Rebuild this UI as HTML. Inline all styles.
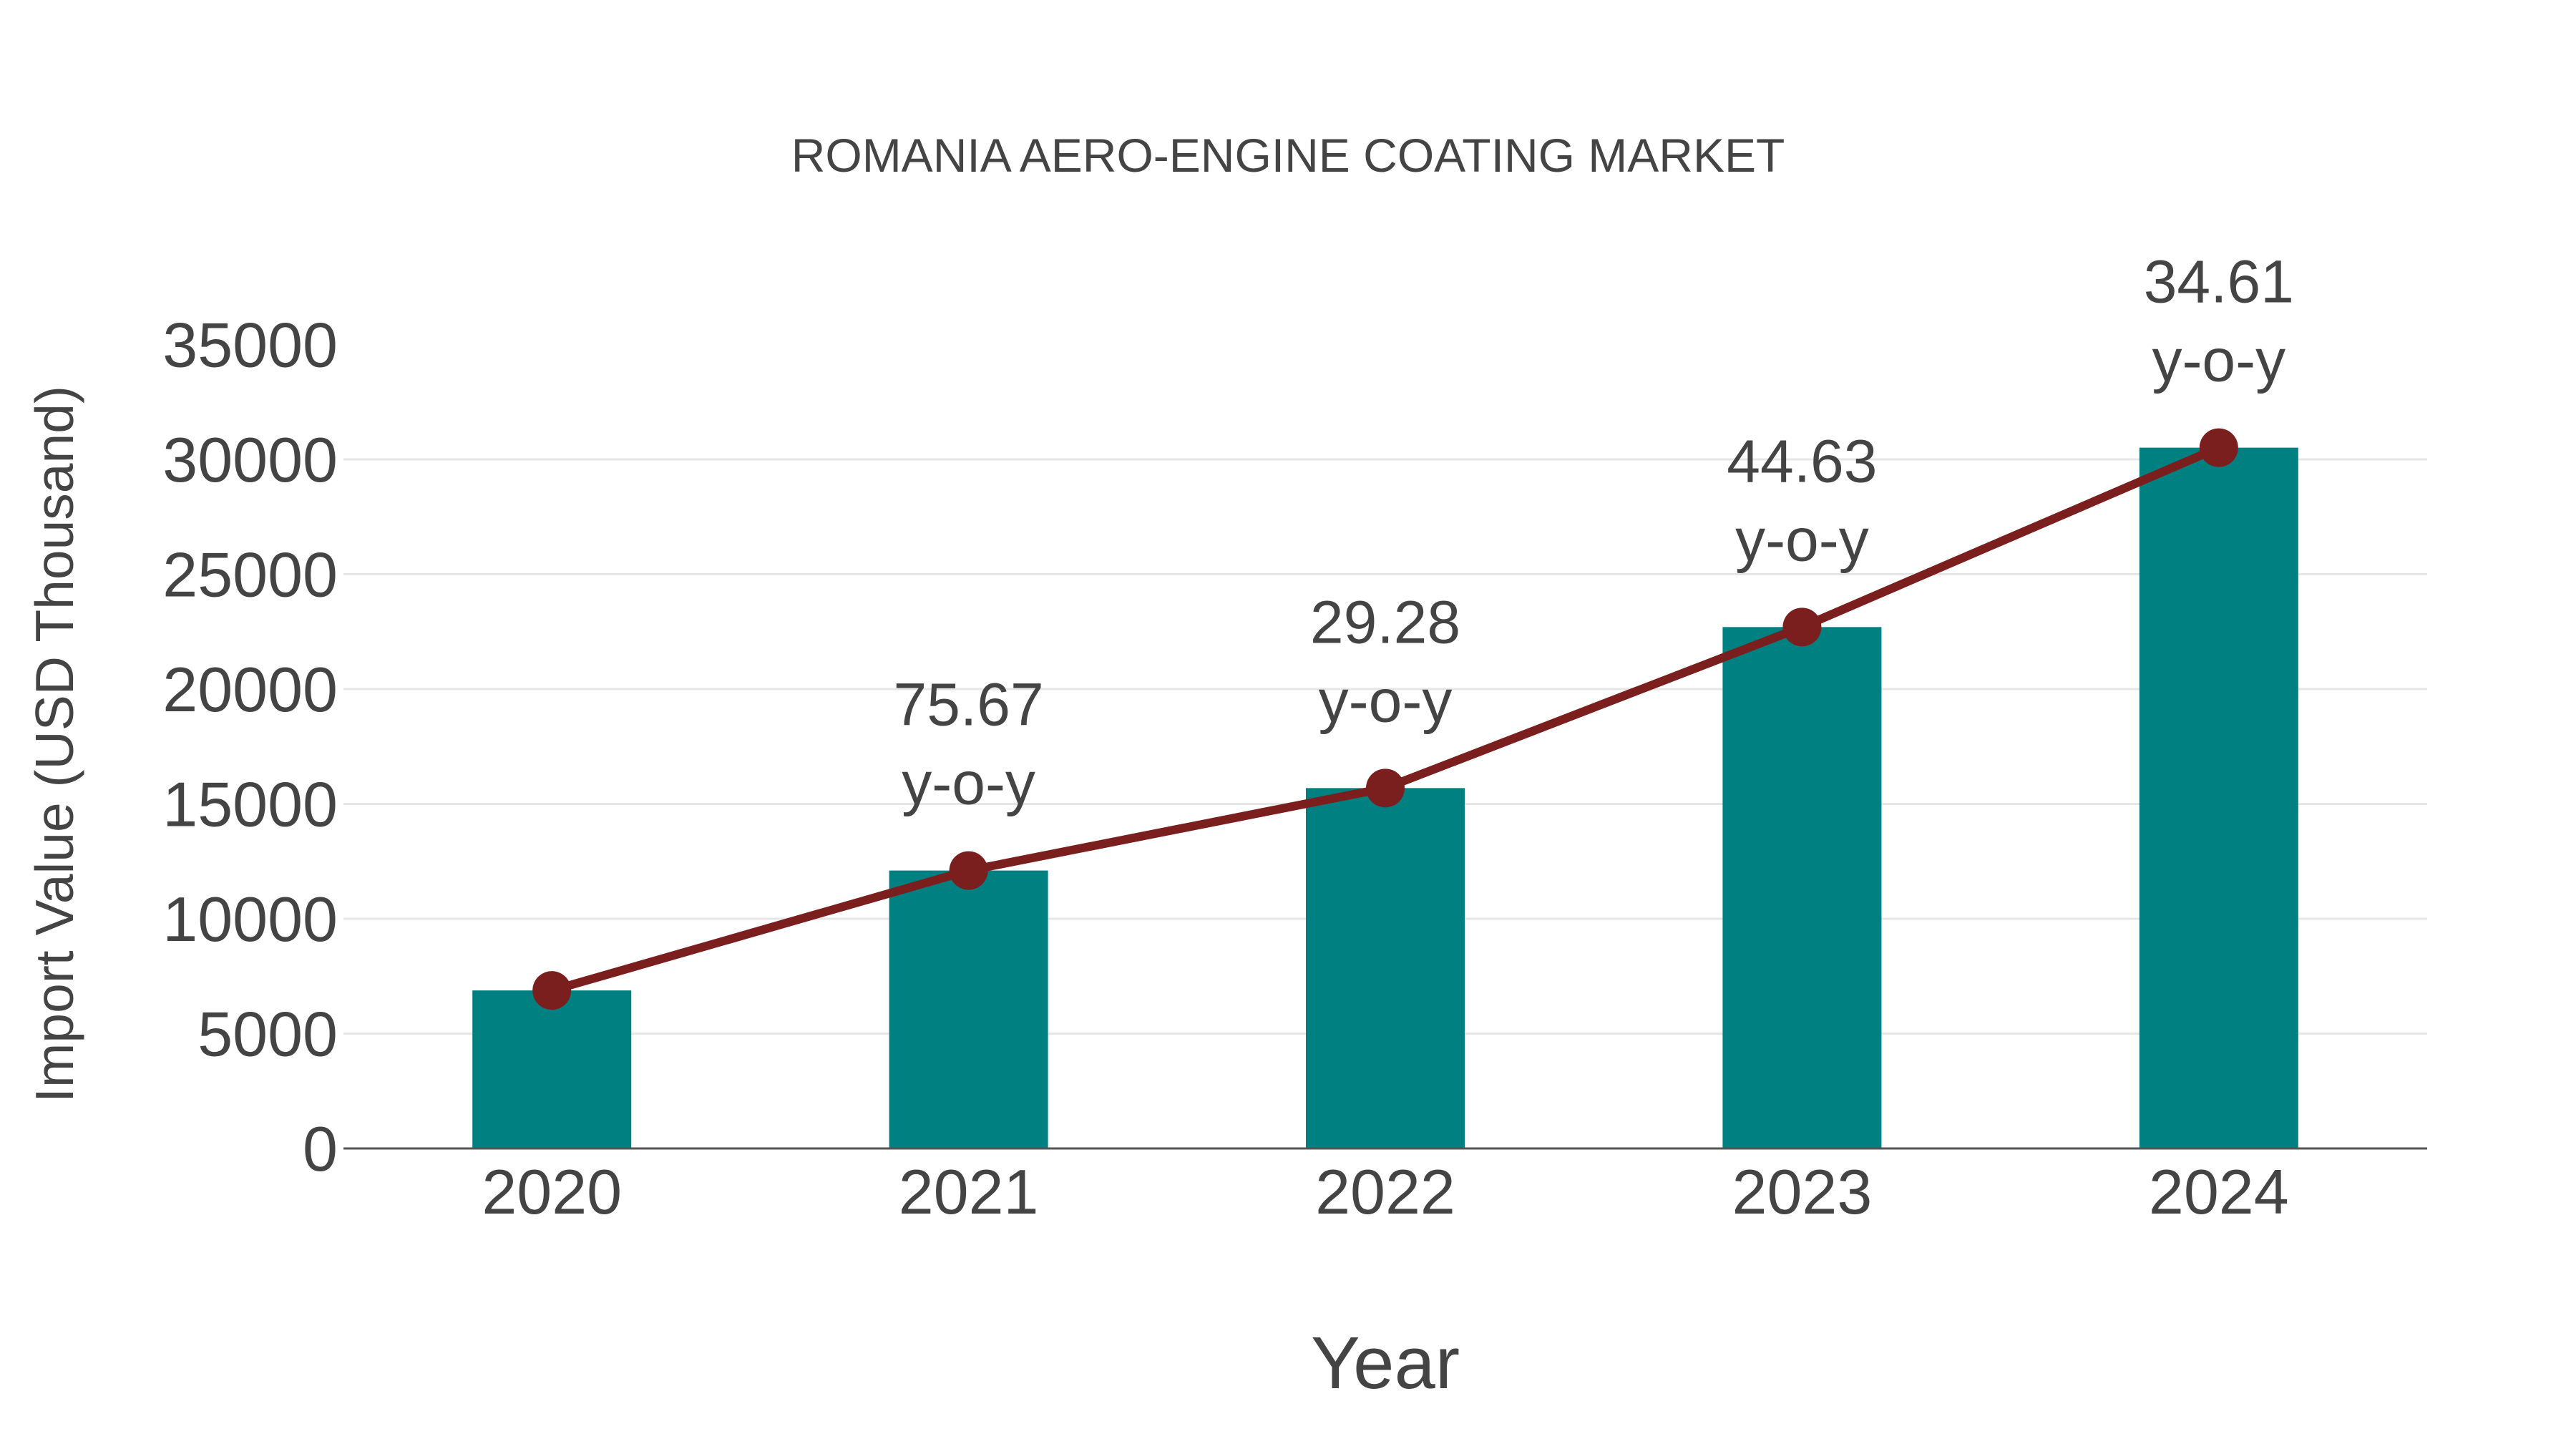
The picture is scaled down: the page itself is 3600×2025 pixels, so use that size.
<!DOCTYPE html>
<html><head><meta charset="utf-8"><style>
html,body{margin:0;padding:0;background:#fff;}
svg{display:block;font-family:"Liberation Sans",sans-serif;}
</style></head><body>
<svg id="chart" width="3600" height="2025" viewBox="0 0 3600 2025">
<text x="1800" y="240" text-anchor="middle" font-size="66" fill="#444">ROMANIA AERO-ENGINE COATING MARKET</text>
<g id="grid"></g>
<g id="bars"></g>
<g id="yticks"></g>
<g id="xticks"></g>
<line x1="480" y1="1605" x2="3392" y2="1605" stroke="#555" stroke-width="3"/>
<g id="line"></g>
<g id="annots"></g>
<text x="1936" y="1940" text-anchor="middle" font-size="103" fill="#444">Year</text>
<text transform="translate(102,1040) rotate(-90)" text-anchor="middle" font-size="75" fill="#444">Import Value (USD Thousand)</text>
</svg>
<script>
const categories = ["2020","2021","2022","2023","2024"];
const values = [6880, 12100, 15690, 22700, 30510];
const yoyLabels = ["", "75.67", "29.28", "44.63", "34.61"];
const yTicks = [0,5000,10000,15000,20000,25000,30000,35000];
const NS="http://www.w3.org/2000/svg";
const x0=480,x1=3392,y0=1605,pxPerUnit=963/30000;
const band=(x1-x0)/categories.length;
const xc=i=>x0+band*(i+0.5);
const y=v=>y0-v*pxPerUnit;
function mk(tag,attrs,parent){const e=document.createElementNS(NS,tag);for(const k in attrs)e.setAttribute(k,attrs[k]);document.getElementById(parent).appendChild(e);return e;}
yTicks.forEach(t=>{
  if(t>0 && t<35000){const g=mk('line',{x1:x0,x2:x1,y1:y(t),y2:y(t),stroke:'#e6e6e6','stroke-width':3},'grid');
  
  }
  const l=mk('text',{x:472,y:y(t)+31,'text-anchor':'end','font-size':88,fill:'#444'},'yticks');
  l.textContent=t;
  
  
});
const bw=222;
categories.forEach((c,i)=>{
  const r=mk('rect',{x:xc(i)-bw/2,y:y(values[i]),width:bw,height:y0-y(values[i]),fill:'#008080'},'bars');
  
  
  const t=mk('text',{x:xc(i),y:1696,'text-anchor':'middle','font-size':88,fill:'#444'},'xticks');
  t.textContent=c;
  
  
});
const pts=values.map((v,i)=>xc(i)+','+y(v)).join(' ');
const pl=mk('polyline',{points:pts,fill:'none',stroke:'#7b1e1e','stroke-width':12},'line');


values.forEach((v,i)=>{
  const c=mk('circle',{cx:xc(i),cy:y(v),r:27,fill:'#7b1e1e'},'line');
  
  
  if(yoyLabels[i]){
    const a=mk('text',{x:xc(i),y:y(v)-234+31,'text-anchor':'middle','font-size':84,fill:'#444'},'annots');
    a.textContent=yoyLabels[i];
    
    
    const b=mk('text',{x:xc(i),y:y(v)-124+31,'text-anchor':'middle','font-size':84,fill:'#444'},'annots');
    b.textContent='y-o-y';
    
    
  }
});
</script>
</body></html>
